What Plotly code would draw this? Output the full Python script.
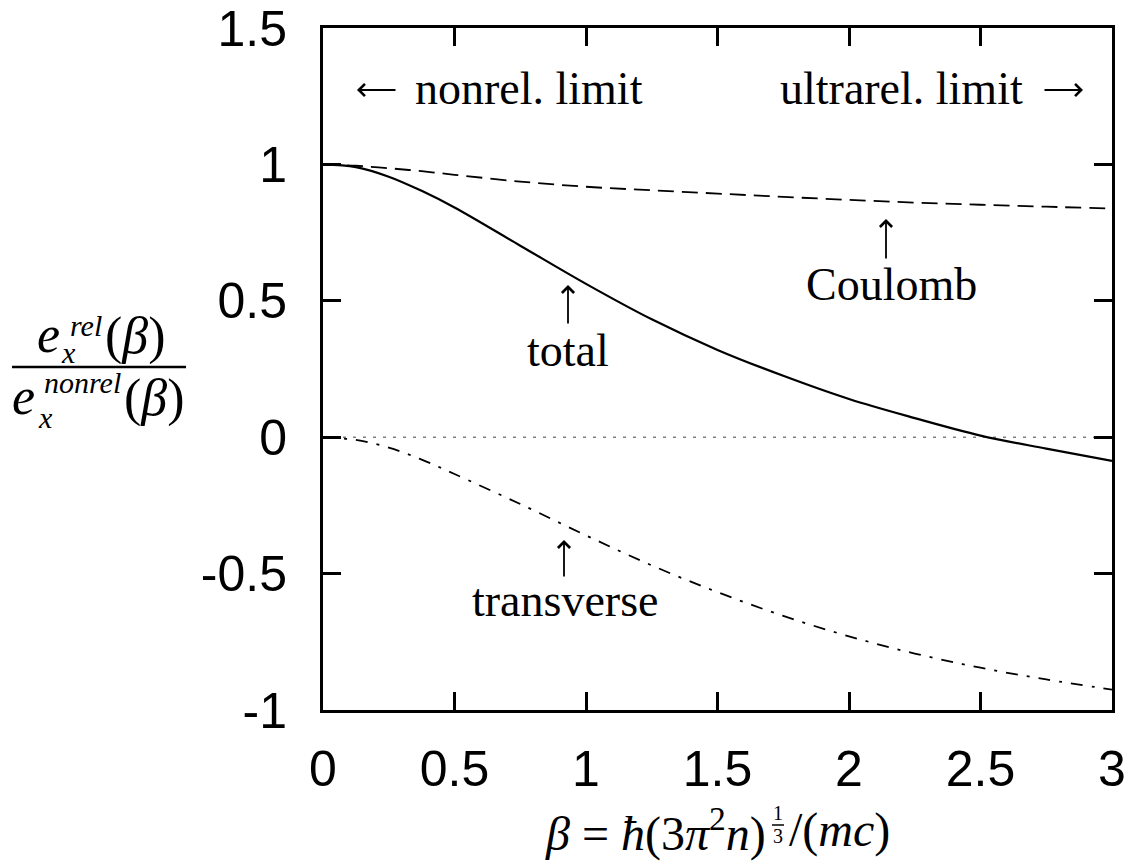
import plotly.graph_objects as go

# ---- data ----
beta = [0.0, 0.125, 0.25, 0.375, 0.5, 0.75, 1.0, 1.25, 1.5, 1.75, 2.0, 2.25, 2.5, 2.75, 3.0]
total = [1.0, 0.99, 0.955, 0.903, 0.842, 0.702, 0.562, 0.432, 0.32, 0.225, 0.14, 0.07, 0.006, -0.042, -0.087]
coulomb = [1.0, 0.995, 0.986, 0.975, 0.962, 0.937, 0.918, 0.905, 0.893, 0.881, 0.870, 0.860, 0.852, 0.845, 0.838]
transverse = [0.0, -0.01, -0.038, -0.082, -0.135, -0.245, -0.36, -0.47, -0.568, -0.655, -0.73, -0.793, -0.845, -0.888, -0.925]
zero_x = [0.0, 3.0]
zero_y = [0.0, 0.0]

x_ticks = [0, 0.5, 1, 1.5, 2, 2.5, 3]
x_ticktext = ["0", "0.5", "1", "1.5", "2", "2.5", "3"]
y_ticks = [-1, -0.5, 0, 0.5, 1, 1.5]
y_ticktext = ["-1", "-0.5", "0", "0.5", "1", "1.5"]

W, H = 1131, 865
ML, MR, MT, MB = 323, 19, 28, 155
PW, PH = W - ML - MR, H - MT - MB

def px2paper(px, py):
    return (px - ML) / PW, (H - MB - py) / PH

SERIF = "Liberation Serif, DejaVu Serif, serif"
SANS = "Liberation Sans, Arial, sans-serif"

fig = go.Figure()
fig.add_trace(go.Scatter(x=zero_x, y=zero_y, mode="lines",
                         line=dict(color="#808080", width=1.5, dash="3px,7px"),
                         hoverinfo="skip"))
fig.add_trace(go.Scatter(x=beta, y=coulomb, mode="lines", line_shape="spline",
                         line=dict(color="black", width=1.8, dash="16px,8px")))
fig.add_trace(go.Scatter(x=beta, y=transverse, mode="lines", line_shape="spline",
                         line=dict(color="black", width=1.8, dash="12px,9px,3px,9px")))
fig.add_trace(go.Scatter(x=beta, y=total, mode="lines", line_shape="spline",
                         line=dict(color="black", width=2.2)))

annotations = []

def add_text(text, px, py, size, xanchor="center", yanchor="middle", font=SERIF):
    ax, ay = px2paper(px, py)
    annotations.append(dict(text=text, x=ax, y=ay, xref="paper", yref="paper",
                            xanchor=xanchor, yanchor=yanchor, showarrow=False,
                            font=dict(family=font, size=size, color="black")))

def add_arrow(tip_px, tip_py, dx, dy):
    # tip position in pixels, (dx, dy) = offset of the tail from the tip in pixels
    ax, ay = px2paper(tip_px, tip_py)
    annotations.append(dict(text="", x=ax, y=ay, xref="paper", yref="paper",
                            showarrow=True, ax=dx, ay=dy, arrowhead=4,
                            arrowsize=1.3, arrowwidth=1.8, arrowcolor="black",
                            standoff=0, startstandoff=0))

# header texts
add_arrow(357, 90, 40, 0)
add_text("nonrel. limit", 413, 88, 46, xanchor="left")
add_text("ultrarel. limit", 1025, 88, 46, xanchor="right")
add_arrow(1083, 90, -40, 0)

# curve labels with arrows
add_arrow(568, 285, 0, 40)
add_text("total", 568, 350, 46)
add_arrow(886, 219, 0, 41)
add_text("Coulomb", 891, 284, 46)
add_arrow(564, 540, 0, 38)
add_text("transverse", 565, 600, 46)

# y-axis title as a stacked fraction
add_text("<i>e</i>", 48, 334, 52)
add_text("<i>rel</i>", 86, 326, 30)
add_text("<i>x</i>", 68, 352, 30)
add_text("(<i>β</i>)", 135, 336, 52)
add_text("<i>e</i>", 23, 396, 52)
add_text("<i>nonrel</i>", 82, 382, 30)
add_text("<i>x</i>", 45, 418, 30)
add_text("(<i>β</i>)", 154, 398, 52)

x0, y0 = px2paper(12, 367)
x1, _ = px2paper(186, 367)
fig.add_shape(type="line", xref="paper", yref="paper", x0=x0, x1=x1, y0=y0, y1=y0,
              line=dict(color="black", width=2.5))

# x-axis title: beta = hbar (3 pi^2 n)^(1/3) / (mc), with a stacked 1/3
add_text("<i>β</i> = <i>ħ</i>(3<i>π</i><sup>2</sup><i>n</i>)", 768, 830, 48, xanchor="right")
add_text("1", 778, 813, 20)
add_text("3", 778, 836, 20)
fx0, fy = px2paper(772, 825)
fx1, _ = px2paper(784, 825)
fig.add_shape(type="line", xref="paper", yref="paper", x0=fx0, x1=fx1, y0=fy, y1=fy,
              line=dict(color="black", width=1.5))
add_text("/(<i>mc</i>)", 787, 830, 48, xanchor="left")

fig.update_layout(
    width=W, height=H,
    margin=dict(l=ML, r=MR, t=MT, b=MB, pad=0, autoexpand=False),
    plot_bgcolor="white", paper_bgcolor="white",
    showlegend=False,
    annotations=annotations,
    xaxis=dict(range=[0, 3], tickvals=x_ticks, ticktext=x_ticktext, automargin=False,
               showgrid=False, zeroline=False, showline=True, mirror="ticks",
               linecolor="black", linewidth=3, ticks="inside", ticklen=18,
               tickwidth=2.5, tickcolor="black", ticklabelstandoff=13,
               tickfont=dict(family=SANS, size=50, color="black")),
    yaxis=dict(range=[-1, 1.5], tickvals=y_ticks, ticktext=y_ticktext, automargin=False,
               showgrid=False, zeroline=False, showline=True, mirror="ticks",
               linecolor="black", linewidth=3, ticks="inside", ticklen=18,
               tickwidth=2.5, tickcolor="black", ticklabelstandoff=23,
               tickfont=dict(family=SANS, size=50, color="black")),
)

fig.write_html("out.html")
